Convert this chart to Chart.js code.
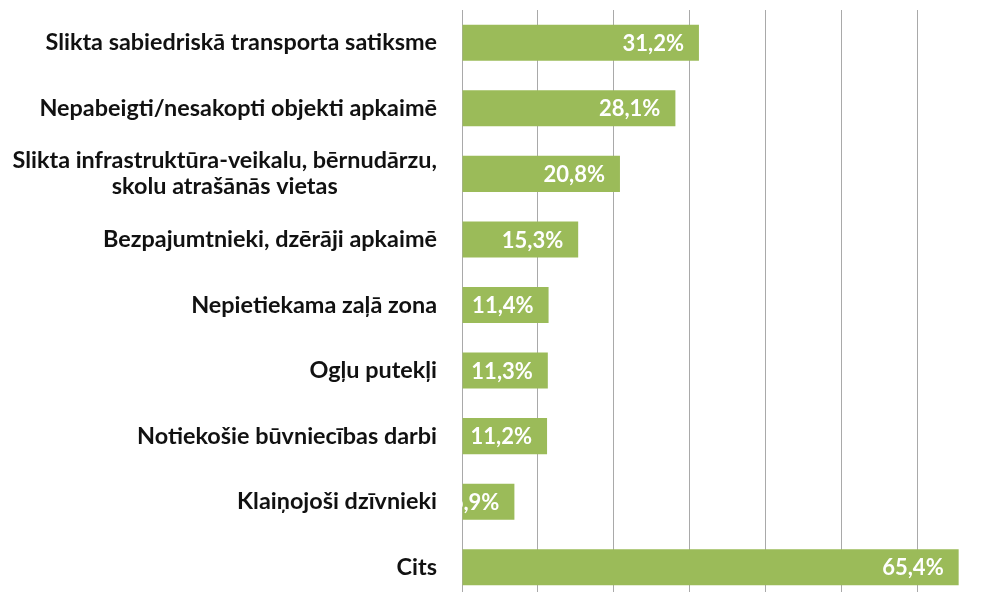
<!DOCTYPE html>
<html lang="lv">
<head>
<meta charset="utf-8">
<title>Apkaimes problēmas</title>
<script src="https://cdn.jsdelivr.net/npm/chart.js@4.4.1/dist/chart.umd.min.js"></script>
<style>
  html, body { margin: 0; padding: 0; background: #fff; overflow: hidden; }
  #wrap { position: relative; width: 986px; height: 600px; }
</style>
</head>
<body>
<div id="wrap"><canvas id="problemChart"></canvas></div>
<script>
// categories (the 3rd one is split over two lines like in the original)
const categories = [
  'Slikta sabiedriskā transporta satiksme',
  'Nepabeigti/nesakopti objekti apkaimē',
  ['Slikta infrastruktūra-veikalu, bērnudārzu,', 'skolu atrašānās vietas'],
  'Bezpajumtnieki, dzērāji apkaimē',
  'Nepietiekama zaļā zona',
  'Ogļu putekļi',
  'Notiekošie būvniecības darbi',
  'Klaiņojoši dzīvnieki',
  'Cits'
];
const shares = [31.2, 28.1, 20.8, 15.3, 11.4, 11.3, 11.2, 6.9, 65.4];
const valueLabels = ['31,2%', '28,1%', '20,8%', '15,3%', '11,4%', '11,3%', '11,2%', '6,9%', '65,4%'];
const gridSteps = [0, 10, 20, 30, 40, 50, 60];

const nameFont = 'bold 23.4px Lato';
const valueFont = 'bold 22px Lato';

// category names drawn left of the axis, lines of a wrapped label centred on each other
const categoryLabels = {
  id: 'categoryLabels',
  afterDraw(chart) {
    const ctx = chart.ctx;
    const y = chart.scales.y;
    ctx.save();
    ctx.font = nameFont;
    ctx.fillStyle = '#111111';
    ctx.textAlign = 'center';
    ctx.textBaseline = 'middle';
    const right = y.right - 25;
    categories.forEach((label, i) => {
      const lines = Array.isArray(label) ? label : [label];
      const widest = Math.max(...lines.map(l => ctx.measureText(l).width));
      const cx = right - widest / 2;
      const yc = y.getPixelForValue(i);
      lines.forEach((line, k) => {
        ctx.fillText(line, cx, yc + (k - (lines.length - 1) / 2) * 26);
      });
    });
    ctx.restore();
  }
};

// white value labels at the end of each bar
const valueTags = {
  id: 'valueTags',
  afterDatasetsDraw(chart) {
    const { ctx, chartArea } = chart;
    const meta = chart.getDatasetMeta(0);
    ctx.save();
    ctx.beginPath();
    ctx.rect(chartArea.left, chartArea.top, chartArea.right - chartArea.left, chartArea.bottom - chartArea.top);
    ctx.clip();
    ctx.font = valueFont;
    ctx.fillStyle = '#ffffff';
    ctx.textAlign = 'right';
    ctx.textBaseline = 'middle';
    meta.data.forEach((bar, i) => {
      ctx.fillText(valueLabels[i], bar.x - 15, bar.y + 1);
    });
    ctx.restore();
  }
};

function drawChart() {
  const ctx = document.getElementById('problemChart');
  new Chart(ctx, {
    type: 'bar',
    data: {
      labels: categories,
      datasets: [{
        data: shares,
        backgroundColor: '#9bbb59',
        borderWidth: 0,
        categoryPercentage: 1,
        barPercentage: 0.55
      }]
    },
    options: {
      indexAxis: 'y',
      responsive: true,
      maintainAspectRatio: false,
      animation: false,
      layout: { padding: { top: 10, left: 0, right: 0, bottom: 0 } },
      plugins: {
        legend: { display: false },
        tooltip: { enabled: false }
      },
      scales: {
        x: {
          min: 0,
          max: 69,
          afterBuildTicks: (scale) => { scale.ticks = gridSteps.map(v => ({ value: v })); },
          afterFit: (scale) => { scale.height = 0; },
          ticks: { display: false },
          grid: { color: '#a9a9a9', lineWidth: 1, drawTicks: false },
          border: { display: false }
        },
        y: {
          afterFit: (scale) => { scale.width = 462; },
          ticks: { display: false },
          grid: { display: false, drawTicks: false },
          border: { display: true, color: '#a9a9a9', width: 1 }
        }
      }
    },
    plugins: [categoryLabels, valueTags]
  });
}

Promise.all([document.fonts.load(nameFont), document.fonts.load(valueFont)]).then(drawChart, drawChart);
</script>
</body>
</html>
